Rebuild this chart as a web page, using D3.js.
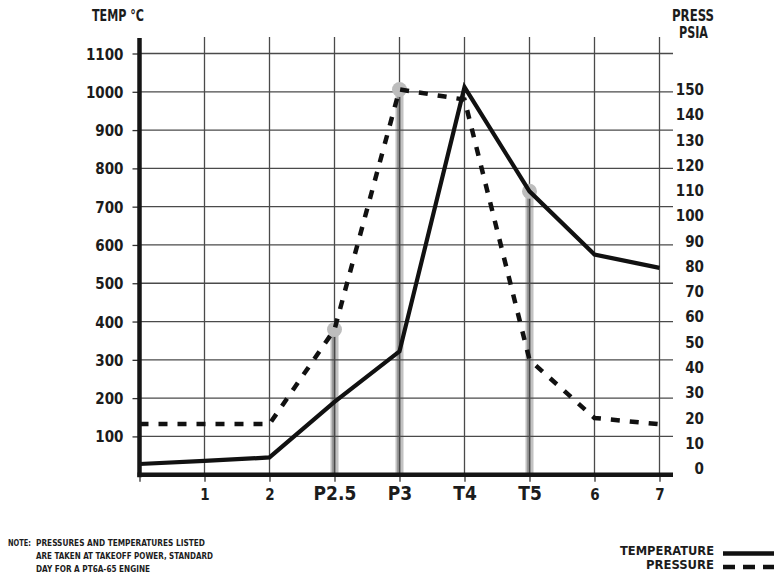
<!DOCTYPE html>
<html>
<head>
<meta charset="utf-8">
<script src="https://cdn.jsdelivr.net/npm/d3@7"></script>
<style>
  body { margin: 0; background: #fff; }
  svg text { font-family: "Liberation Sans Narrow", "Arial Narrow", "DejaVu Sans Condensed", sans-serif; font-weight: bold; fill: #1c1c1c; }
</style>
</head>
<body>
<div id="chart"></div>
<script>
// stations along the engine gas path
let stations = ["0", "1", "2", "P2.5", "P3", "T4", "T5", "6", "7"];
let tempC = [28, 36, 45, 190, 322, 1012, 740, 575, 540];
let pressPsia = [17.6, 17.6, 17.6, 55, 150, 146, 43, 20, 17.5];
let tempTicks = [100, 200, 300, 400, 500, 600, 700, 800, 900, 1000, 1100];
let pressTicks = [0, 10, 20, 30, 40, 50, 60, 70, 80, 90, 100, 110, 120, 130, 140, 150];
// measuring points marked with a gray probe bar
let probes = [
  {station: "P2.5", series: "press"},
  {station: "P3", series: "press"},
  {station: "T5", series: "temp"}
];
let noteLines = [
  "PRESSURES AND TEMPERATURES LISTED",
  "ARE TAKEN AT TAKEOFF POWER, STANDARD",
  "DAY FOR A PT6A-65  ENGINE"
];

let width = 774, height = 575;
let svg = d3.select("#chart").append("svg")
    .attr("width", width)
    .attr("height", height);

let x = d3.scalePoint().domain(stations).range([139.5, 659.5]);
let yT = d3.scaleLinear().domain([0, 1100]).range([474.7, 53.5]);
let yP = d3.scaleLinear().domain([0, 150]).range([468.5, 89.5]);
let gridRight = 673, gridTop = 37, base = yT(0);

function probeY(p) {
  let i = stations.indexOf(p.station);
  return p.series == "press" ? yP(pressPsia[i]) : yT(tempC[i]);
}

// probe bars
let bars = svg.append("g").selectAll("g")
    .data(probes).enter().append("g");
bars.append("rect")
    .attr("x", function(d) { return x(d.station) - 4; })
    .attr("y", probeY)
    .attr("width", 8)
    .attr("height", function(d) { return base - probeY(d); })
    .attr("fill", "#c2c2c2");
bars.append("rect")
    .attr("x", function(d) { return x(d.station) - 2.5; })
    .attr("y", probeY)
    .attr("width", 4)
    .attr("height", function(d) { return base - probeY(d); })
    .attr("fill", "#9a9a9a");

// grid
let grid = svg.append("g").attr("stroke", "#4a4a4a").attr("stroke-width", 1.3);
grid.selectAll(".h").data(tempTicks).enter().append("line")
    .attr("x1", x("0")).attr("x2", gridRight)
    .attr("y1", function(d) { return yT(d); })
    .attr("y2", function(d) { return yT(d); });
grid.selectAll(".v").data(stations.slice(1)).enter().append("line")
    .attr("x1", function(d) { return x(d); })
    .attr("x2", function(d) { return x(d); })
    .attr("y1", gridTop).attr("y2", base);

// probe circles
svg.append("g").selectAll("circle")
    .data(probes).enter().append("circle")
    .attr("cx", function(d) { return x(d.station); })
    .attr("cy", probeY)
    .attr("r", 7.5)
    .attr("fill", "#bdbdbd");

// data lines
let tempLine = d3.line()
    .x(function(d, i) { return x(stations[i]); })
    .y(function(d) { return yT(d); });
let pressLine = d3.line()
    .x(function(d, i) { return x(stations[i]); })
    .y(function(d) { return yP(d); });

svg.append("path")
    .datum(pressPsia)
    .attr("d", pressLine)
    .attr("fill", "none")
    .attr("stroke", "#111")
    .attr("stroke-width", 4.5)
    .attr("stroke-dasharray", "9,10");
svg.append("path")
    .datum(tempC)
    .attr("d", tempLine)
    .attr("fill", "none")
    .attr("stroke", "#111")
    .attr("stroke-width", 4.2)
    .attr("stroke-linejoin", "miter");

// axes
let xAxis = svg.append("g")
    .attr("transform", "translate(0," + base + ")")
    .call(d3.axisBottom(x).tickSize(7));
xAxis.select(".domain").remove();
xAxis.selectAll("line").attr("stroke", "#333").attr("stroke-width", 1.3);
xAxis.selectAll("text")
    .attr("dy", null)
    .attr("y", 25)
    .style("font-size", function(d) { return /^[PT]/.test(d) ? "19px" : "15px"; })
    .text(function(d) { return d == "0" ? "" : d; });

let yAxis = svg.append("g")
    .attr("transform", "translate(" + x("0") + ",0)")
    .call(d3.axisLeft(yT).tickValues(tempTicks).tickFormat(d3.format("d")).tickSize(7).tickPadding(9));
yAxis.select(".domain").remove();
yAxis.selectAll("line").attr("stroke", "#333").attr("stroke-width", 1.3);
yAxis.selectAll("text").attr("dy", "0.37em").style("font-size", "15px");

svg.append("g").selectAll("text")
    .data(pressTicks).enter().append("text")
    .attr("x", 704)
    .attr("y", function(d) { return yP(d); })
    .attr("dy", "0.37em")
    .attr("text-anchor", "end")
    .style("font-size", "15px")
    .text(function(d) { return d; });

// thick frame
svg.append("line")
    .attr("x1", x("0")).attr("x2", x("0"))
    .attr("y1", 38).attr("y2", base + 2.5)
    .attr("stroke", "#151515").attr("stroke-width", 4.5);
svg.append("line")
    .attr("x1", x("0") - 2).attr("x2", gridRight)
    .attr("y1", base).attr("y2", base)
    .attr("stroke", "#151515").attr("stroke-width", 4.5);

// axis titles
svg.append("text").attr("x", 92).attr("y", 20.5)
    .style("font-size", "15px")
    .attr("textLength", 52).attr("lengthAdjust", "spacingAndGlyphs")
    .text("TEMP °C");
svg.append("text").attr("x", 693).attr("y", 20.5)
    .attr("text-anchor", "middle").style("font-size", "15px")
    .attr("textLength", 42).attr("lengthAdjust", "spacingAndGlyphs")
    .text("PRESS");
svg.append("text").attr("x", 693.5).attr("y", 37.5)
    .attr("text-anchor", "middle").style("font-size", "15px")
    .attr("textLength", 29).attr("lengthAdjust", "spacingAndGlyphs")
    .text("PSIA");

// note
svg.append("text").attr("x", 8).attr("y", 546)
    .style("font-size", "9.5px")
    .attr("textLength", 23).attr("lengthAdjust", "spacingAndGlyphs")
    .text("NOTE:");
let noteLen = [169, 177, 114];
svg.append("g").selectAll("text")
    .data(noteLines).enter().append("text")
    .attr("x", 36)
    .attr("y", function(d, i) { return 546 + i * 12.8; })
    .style("font-size", "9.5px")
    .attr("textLength", function(d, i) { return noteLen[i]; })
    .attr("lengthAdjust", "spacingAndGlyphs")
    .text(function(d) { return d; });

// legend
let legend = [
  {label: "TEMPERATURE", y: 554.5, line: 553.5, len: 94, dash: null},
  {label: "PRESSURE", y: 568.5, line: 567, len: 68, dash: "12,8"}
];
let lg = svg.append("g").selectAll("g").data(legend).enter().append("g");
lg.append("text")
    .attr("x", 714).attr("y", function(d) { return d.y; })
    .attr("text-anchor", "end")
    .style("font-size", "11.5px")
    .attr("textLength", function(d) { return d.len; })
    .attr("lengthAdjust", "spacingAndGlyphs")
    .text(function(d) { return d.label; });
lg.append("line")
    .attr("x1", 723).attr("x2", 776)
    .attr("y1", function(d) { return d.line; })
    .attr("y2", function(d) { return d.line; })
    .attr("stroke", "#111")
    .attr("stroke-width", 4.5)
    .attr("stroke-dasharray", function(d) { return d.dash; });
</script>
</body>
</html>
